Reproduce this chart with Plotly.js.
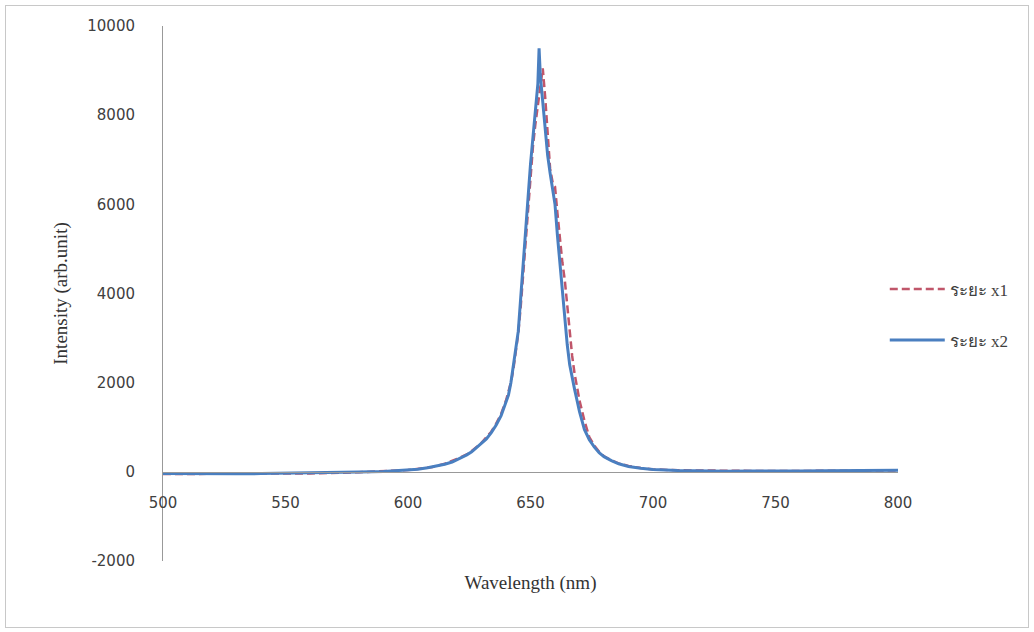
<!DOCTYPE html>
<html>
<head>
<meta charset="utf-8">
<script src="https://cdn.plot.ly/plotly-3.0.1.min.js"></script>
<style>
html,body{margin:0;padding:0;background:#fff;}
#chart{width:1034px;height:632px;position:relative;}
#frame{position:absolute;left:5px;top:5px;width:1022px;height:621px;border:1px solid #c8c8c8;pointer-events:none;}
</style>
</head>
<body>
<div id="chart"></div>
<div id="frame"></div>
<script>
// Series x1 (red dashed)
const wavelengthX1 = [500,520,540,560,580,600,610,615,620,625,630,634,636,638,640,642,643,644,645,646,647,648,649,650,651,652,653,654,655,656,657,658,659,660,661,662,663,664,665,666,667,668,669,670,672,674,676,678,680,683,686,690,695,700,710,720,740,760,780,800];
const intensityX1 = [-50,-50,-45,-35,-10,40,110,180,290,420,650,900,1080,1300,1600,2000,2300,2650,3100,3700,4400,5200,6000,6700,7300,7800,8200,8600,9050,8400,7600,6800,6500,6400,5800,5200,4700,4300,3700,3100,2600,2200,1900,1600,1150,780,590,450,350,260,190,130,85,55,35,25,20,20,25,30];

// Series x2 (blue solid)
const wavelengthX2 = [500,510,520,530,540,550,560,570,580,590,595,600,604,608,612,615,618,620,622,624,626,628,630,632,634,636,638,640,641,642,643,644,645,646,647,648,649,650,651,652,653,653.5,654,655,656,657,658,659,660,661,662,663,664,665,666,667,668,669,670,672,674,676,678,680,683,686,690,695,700,710,720,730,740,750,760,770,780,790,800];
const intensityX2 = [-40,-45,-40,-45,-40,-35,-30,-20,-5,10,25,40,60,90,130,170,220,270,320,380,450,540,630,740,880,1050,1260,1550,1720,2000,2350,2700,3150,3900,4700,5500,6100,6900,7500,8200,8700,9500,8900,8300,7600,7100,6700,6300,6000,5300,4700,4100,3400,2850,2400,2100,1850,1600,1350,950,720,560,430,340,250,180,120,80,50,30,20,15,20,15,20,25,30,30,35];

const seriesNames = ["ระยะ x1", "ระยะ x2"];
const xTicks = [500,550,600,650,700,750,800];
const yTicks = [-2000,0,2000,4000,6000,8000,10000];

const traces = [
  {x: wavelengthX1, y: intensityX1, type: 'scatter', mode: 'lines', name: seriesNames[0], legendgroup: 'a',
   line: {color: '#c0566a', width: 2.5, dash: '8px,4px'}},
  {x: wavelengthX2, y: intensityX2, type: 'scatter', mode: 'lines', name: seriesNames[1], legendgroup: 'b',
   line: {color: '#4a7fc0', width: 3}}
];

const tickFont = {family: 'DejaVu Sans, Verdana, sans-serif', size: 15, color: '#404040'};
const titleFont = {family: 'Liberation Serif, Times New Roman, serif', size: 19, color: '#333'};

const layout = {
  width: 1034, height: 632,
  margin: {l: 163, r: 136, t: 26, b: 71},
  paper_bgcolor: '#fff', plot_bgcolor: 'rgba(0,0,0,0)',
  showlegend: true,
  legend: {x: 0.982, xanchor: 'left', y: 0.46, yanchor: 'middle', tracegroupgap: 26, itemwidth: 55,
           font: {family: 'Liberation Serif, Noto Sans, serif', size: 17, color: '#404040'},
           bgcolor: 'rgba(0,0,0,0)'},
  xaxis: {range: [500, 800], tickvals: xTicks, ticktext: xTicks.map(String),
          anchor: 'free', position: 2000/12000,
          showline: true, linecolor: '#999', linewidth: 1, zeroline: false, showgrid: false,
          ticks: 'outside', ticklen: 17, tickcolor: 'rgba(0,0,0,0)', tickfont: tickFont,
          title: {text: 'Wavelength (nm)', font: titleFont, standoff: 64}},
  yaxis: {range: [-2000, 10000], tickvals: yTicks, ticktext: yTicks.map(String),
          showline: true, linecolor: '#999', linewidth: 1, zeroline: false, showgrid: false,
          ticks: 'outside', ticklen: 24, tickcolor: 'rgba(0,0,0,0)', tickfont: tickFont,
          title: {text: 'Intensity (arb.unit)', font: titleFont, standoff: 14}}
};

Plotly.newPlot('chart', traces, layout, {displayModeBar: false, staticPlot: true});
</script>
</body>
</html>
